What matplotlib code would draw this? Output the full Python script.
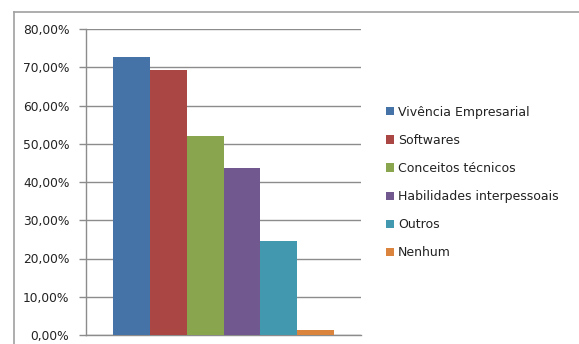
import matplotlib.pyplot as plt
from matplotlib.lines import Line2D
from matplotlib.ticker import FuncFormatter

categorias = ['Vivência Empresarial', 'Softwares', 'Conceitos técnicos',
              'Habilidades interpessoais', 'Outros', 'Nenhum']
valores = [72.6, 69.4, 52.0, 43.6, 24.7, 1.4]
cores = ['#4572A7', '#AA4643', '#89A54E', '#71588F', '#4198AF', '#DB843D']

plt.rcParams['font.family'] = ['DejaVu Sans']

W, H = 579, 344
fig = plt.figure(figsize=(W / 100, H / 100), dpi=100)
ax = fig.add_axes([86 / W, 9 / H, (361 - 86) / W, (335 - 29) / H])

for i, (nome, v, c) in enumerate(zip(categorias, valores, cores)):
    ax.bar(i - 2.5, v, width=1.0, color=c, label=nome, zorder=3)

ax.set_xlim(-3.72, 3.72)
ax.set_ylim(0, 80)
ax.set_yticks(range(0, 81, 10))
ax.yaxis.set_major_formatter(FuncFormatter(lambda v, p: f'{v:.2f}%'.replace('.', ',')))
ax.set_xticks([])
ax.grid(axis='y', color='#8c8c8c', linewidth=1.0, zorder=0)
ax.tick_params(axis='y', length=5, width=1, color='#8c8c8c', pad=7, labelsize=8.8, labelcolor='#222222')
for s in ['top', 'right']:
    ax.spines[s].set_visible(False)
for s in ['left', 'bottom']:
    ax.spines[s].set_color('#8c8c8c')
    ax.spines[s].set_linewidth(1.0)

# moldura do gráfico
fig.add_artist(Line2D([14 / W, 1], [1 - 12 / H, 1 - 12 / H], color='#a0a0a0', lw=1.2))
fig.add_artist(Line2D([14 / W, 14 / W], [0, 1 - 12 / H], color='#a0a0a0', lw=1.2))

fig.legend(loc='center left', bbox_to_anchor=(386 / W, 1 - 182.5 / H), frameon=False,
           fontsize=9, handlelength=0.65, handleheight=0.65, handletextpad=0.3,
           labelspacing=1.21, borderpad=0, borderaxespad=0, labelcolor='#222222')

fig.savefig('out.png', dpi=100)
